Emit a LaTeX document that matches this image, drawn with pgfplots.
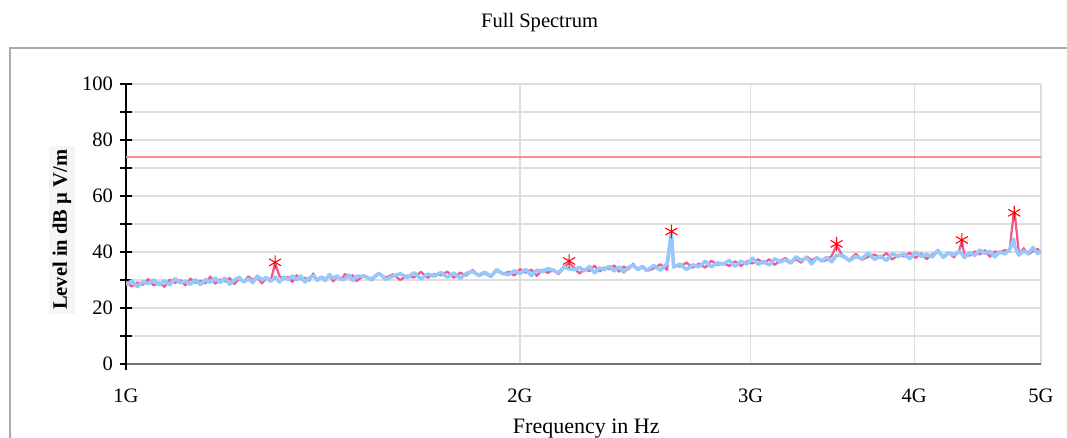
\documentclass[border=0pt]{standalone}
\usepackage{fontspec}
\setmainfont{Liberation Serif}
\usepackage{pgfplots}
\usepackage{pgfplotstable}
\pgfplotsset{compat=1.18}

\definecolor{pinktrace}{RGB}{240,90,140}
\definecolor{bluetrace}{RGB}{150,200,250}
\definecolor{limitred}{RGB}{250,140,140}
\definecolor{gridgray}{RGB}{222,222,222}
\definecolor{framegray}{RGB}{170,170,170}

% f in GHz, pk = pink trace, bl = blue trace (dB uV/m)
\pgfplotstableread{
f pk bl
1.00 29.5 28.2
1.01 27.7 29.7
1.02 29.1 27.6
1.03 28.3 29.3
1.04 30.3 28.7
1.05 28.1 30.1
1.06 29.1 28.2
1.07 27.6 29.7
1.08 30.1 28.2
1.09 29.0 30.5
1.10 29.9 29.0
1.11 28.1 29.5
1.12 30.5 28.5
1.13 29.0 30.1
1.14 29.7 28.4
1.15 28.8 30.1
1.16 31.2 29.2
1.17 28.7 30.7
1.18 30.2 29.1
1.19 29.5 30.6
1.20 30.7 28.5
1.21 28.6 30.0
1.22 30.4 30.9
1.23 29.3 29.3
1.24 31.3 30.4
1.25 30.0 29.1
1.26 30.9 31.4
1.27 28.8 30.0
1.28 30.6 30.9
1.29 29.8 29.5
1.30 36.0 31.1
1.31 31.3 29.3
1.32 30.3 31.0
1.33 31.1 30.1
1.34 29.3 31.5
1.35 31.7 30.0
1.36 30.2 31.4
1.37 30.8 29.3
1.38 29.8 30.7
1.39 32.3 31.6
1.40 29.7 30.0
1.41 31.2 31.0
1.42 30.5 29.8
1.43 31.7 32.0
1.44 29.5 30.6
1.45 31.3 31.5
1.46 30.2 30.1
1.47 32.1 30.4
1.48 30.8 31.8
1.49 31.7 29.8
1.50 29.6 31.4
1.52 31.6 31.4
1.54 29.9 30.3
1.56 32.2 32.4
1.58 30.9 30.2
1.60 32.0 31.4
1.62 30.0 32.2
1.64 31.6 30.9
1.66 30.9 32.6
1.68 32.9 30.4
1.70 30.8 32.1
1.72 32.1 31.4
1.74 31.7 32.7
1.76 33.0 31.0
1.78 30.8 32.5
1.80 32.6 30.6
1.82 31.6 32.3
1.84 33.6 33.1
1.86 31.4 31.6
1.88 32.4 32.8
1.90 31.1 31.3
1.92 33.3 33.7
1.94 32.1 32.3
1.96 32.9 31.9
1.98 31.6 33.3
2.00 33.9 32.3
2.02 32.6 33.8
2.04 33.7 31.6
2.06 31.5 33.5
2.08 33.7 33.0
2.10 32.5 34.1
2.12 33.7 33.5
2.14 32.1 32.5
2.16 34.4 34.6
2.18 36.2 34.0
2.20 34.3 33.7
2.22 32.3 34.5
2.24 33.9 33.2
2.26 33.2 34.9
2.28 35.1 32.6
2.30 33.0 34.3
2.32 34.4 33.7
2.34 33.9 34.9
2.36 35.2 33.2
2.38 33.0 34.7
2.40 34.8 32.8
2.42 33.8 34.5
2.44 35.8 35.3
2.46 33.6 33.8
2.48 34.5 34.9
2.50 33.2 33.4
2.53 34.1 35.1
2.56 35.6 33.5
2.59 33.6 35.8
2.61 46.8 46.8
2.62 35.3 34.6
2.65 34.8 35.7
2.68 36.2 33.7
2.71 34.4 35.4
2.74 35.9 34.7
2.77 34.4 36.7
2.80 36.9 34.7
2.83 35.4 36.1
2.86 36.0 35.7
2.89 35.0 37.0
2.92 36.7 34.9
2.95 35.0 36.7
2.98 36.7 35.7
3.01 35.9 37.8
3.04 37.4 35.6
3.07 35.9 36.6
3.10 37.4 35.3
3.13 35.4 37.6
3.16 36.9 36.4
3.19 37.8 37.2
3.22 36.3 36.0
3.25 37.4 38.3
3.28 36.2 37.0
3.31 38.4 38.0
3.34 37.1 35.8
3.37 38.0 38.0
3.40 36.7 36.8
3.43 37.1 38.1
3.46 38.6 36.5
3.49 42.5 38.8
3.53 38.2 38.7
3.57 37.2 36.9
3.61 39.3 38.4
3.65 37.2 37.6
3.69 38.3 39.6
3.73 39.1 37.4
3.77 37.9 38.5
3.81 39.6 37.0
3.85 37.3 39.4
3.89 39.0 38.4
3.93 38.4 39.3
3.97 39.7 37.6
4.01 37.9 39.9
4.05 39.5 38.5
4.09 37.5 39.1
4.13 39.2 38.2
4.17 40.0 40.6
4.21 38.5 38.1
4.25 39.7 39.7
4.29 38.1 38.9
4.33 40.6 40.2
4.35 43.8 39.4
4.37 39.1 38.0
4.41 38.7 39.8
4.45 40.2 38.8
4.49 39.1 40.7
4.53 40.6 39.5
4.57 38.3 40.3
4.61 40.2 38.3
4.65 39.7 40.1
4.69 40.7 39.3
4.73 40.2 40.7
4.765 53.6 44.6
4.775 53.6 42.0
4.81 39.2 38.9
4.85 41.3 40.4
4.89 39.1 39.5
4.93 40.3 41.6
4.97 41.1 39.4
5.00 39.8 40.4
}\spectrum

\pgfplotstableread{
f lvl
1.30 36.3
2.18 36.8
2.61 47.3
3.49 42.9
4.35 44.3
4.77 54.0
}\peaks

\begin{document}
\begin{tikzpicture}
\path[use as bounding box] (0,0) rectangle (800.25pt,328.5pt);
\clip (0,0) rectangle (800.25pt,328.5pt);
\draw[framegray, line width=1.5pt] (7.5pt,-5pt) -- (7.5pt,292.5pt) -- (810pt,292.5pt);
\begin{axis}[
  at={(94.5pt,55.5pt)}, anchor=south west,
  width=686.25pt, height=210pt, scale only axis,
  xmode=log, xmin=1, xmax=5, ymin=0, ymax=100,
  xtick={1,2,3,4,5}, xticklabels={1G,2G,3G,4G,5G},
  ytick={0,20,...,100}, minor ytick={10,30,...,90},
  xmajorgrids, ymajorgrids, yminorgrids,
  grid style={gridgray, line width=0.8pt},
  minor grid style={gridgray, line width=0.8pt},
  axis x line=bottom, axis y line=left,
  x axis line style={-, black!55, line width=0.9pt},
  y axis line style={-, black, line width=0.8pt, shorten <=-4.5pt},
  xtick style={draw=none},
  ytick style={black, line width=0.8pt},
  major tick length=9.75pt, minor tick length=9.75pt, tick align=center,
  /pgf/number format/assume math mode=true,
  every tick label/.append style={font=\fontsize{15.4}{18}\selectfont},
  xticklabel style={yshift=-10.5pt},
  yticklabel style={xshift=-1.5pt},
  title={Full Spectrum},
  title style={at={(axis description cs:0.452,1.172)}, anchor=base, font=\fontsize{15.4}{18}\selectfont},
  xlabel={Frequency in Hz},
  xlabel style={at={(axis description cs:0.503,-0.247)}, anchor=base, font=\fontsize{16.5}{20}\selectfont},
  ylabel={Level in dB µ V/m},
  ylabel style={at={(axis description cs:-0.070,0.479)}, anchor=center, fill=black!4, inner sep=3pt, font=\bfseries\fontsize{15.4}{18}\selectfont},
]
\addplot[limitred, line width=1.2pt] coordinates {(1,74) (5,74)};
\addplot[pinktrace, line width=1.7pt, line join=round] table[x=f, y=pk] {\spectrum};
\addplot[bluetrace, line width=2.7pt, line join=round] table[x=f, y=bl] {\spectrum};
\addplot[only marks, red, mark=asterisk, mark size=5.2pt, mark options={line width=0.8pt}] table[x=f, y=lvl] {\peaks};
\end{axis}
\end{tikzpicture}
\end{document}
